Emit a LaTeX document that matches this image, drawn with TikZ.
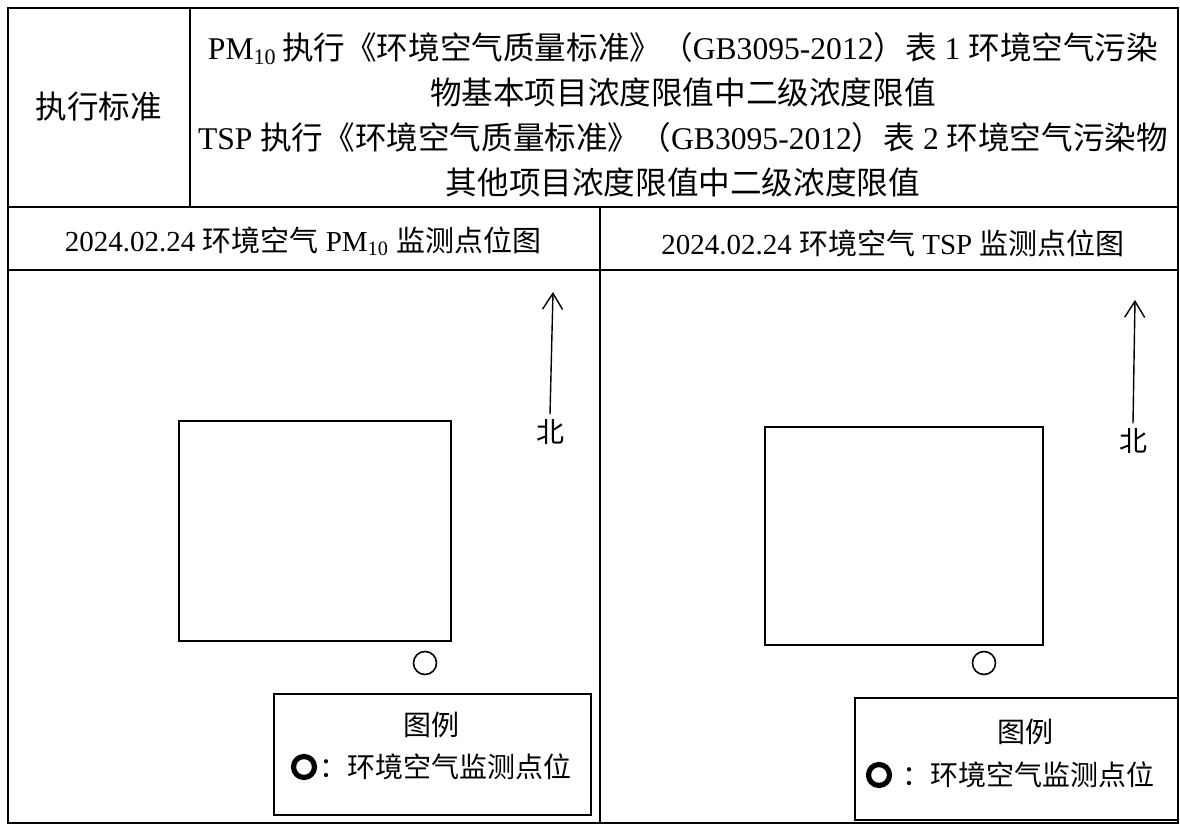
\documentclass[tikz,border=0pt]{standalone}
\usepackage{fontspec}
\setmainfont{Liberation Serif}
\newfontfamily\cjk{Noto Sans CJK SC}
\newcommand{\zh}[1]{{\cjk #1}}
\usetikzlibrary{positioning,arrows.meta}
\tikzset{
  frameline/.style={line width=1.1pt},
  gridline/.style={line width=0.9pt},
  siteplan/.style={line width=0.8pt},
  legbox/.style={line width=0.6pt},
  monpoint/.style={circle,draw,line width=0.8pt,minimum size=11.5pt,inner sep=0pt},
  legmark/.style={circle,draw,line width=2.6pt,minimum size=10.5pt,inner sep=0pt},
  northarrow/.style={line width=0.7pt,-{Straight Barb[length=8pt,width=10pt]}},
  bigtext/.style={font=\fontsize{15.8}{22.5}\selectfont},
  midtext/.style={font=\fontsize{14.5}{18}\selectfont},
  legtext/.style={font=\fontsize{14}{18}\selectfont},
}
\begin{document}
\begin{tikzpicture}[x=0.5pt,y=-0.5pt]
\fill[white] (0,0) rectangle (1180,828);
\useasboundingbox (0,0) rectangle (1180,828);
% table
\draw[frameline] (8,8) -- ++(1170,0) -- ++(0,815) -- ++(-1170,0) -- cycle;
\draw[gridline] (190,8) -- (190,207);
\draw[frameline] (8,207) -- (1178,207);
\draw[gridline] (8,270) -- (1178,270);
\draw[gridline] (600,207) -- (600,823);
\node[bigtext] (stdhead) at (99,107) {\zh{执行标准}};
\node[bigtext,align=center,inner sep=0pt] (stdbody) at (683,115)
  {PM\textsubscript{10}\,\zh{执行《环境空气质量标准》（}GB3095-2012\zh{）表} 1 \zh{环境空气污染}\\
   \zh{物基本项目浓度限值中二级浓度限值}\\
   TSP \zh{执行《环境空气质量标准》（}GB3095-2012\zh{）表} 2 \zh{环境空气污染物}\\
   \zh{其他项目浓度限值中二级浓度限值}};
\node[midtext] (titlepm) at (303,241)
  {2024.02.24 \zh{环境空气} PM\textsubscript{10} \zh{监测点位图}};
\node[midtext] (titletsp) at (893,243)
  {2024.02.24 \zh{环境空气} TSP \zh{监测点位图}};
% PM10 map
\draw[siteplan] (179,421) -- ++(272,0) -- ++(0,220) -- ++(-272,0) -- cycle;
\node[monpoint] (ptpm) at (425,663) {};
\node[legtext] (northpm) at (550,432) {\zh{北}};
\coordinate (tippm) at (553,292);
\draw[northarrow] ([yshift=-1pt]northpm.north) -- (tippm);
\draw[legbox] (274,694) -- ++(317,0) -- ++(0,121) -- ++(-317,0) -- cycle;
\node[legtext] (legheadpm) at (431,725) {\zh{图例}};
\node[legmark] (legmarkpm) at (304,767) {};
\node[legtext,right=0pt of legmarkpm,inner sep=1pt] (legitempm) {\zh{：环境空气监测点位}};
% TSP map
\draw[siteplan] (765,427) -- ++(278,0) -- ++(0,218) -- ++(-278,0) -- cycle;
\node[monpoint] (pttsp) at (984,663) {};
\node[legtext] (northtsp) at (1133,441) {\zh{北}};
\coordinate (tiptsp) at (1135,300);
\draw[northarrow] ([yshift=-1pt]northtsp.north) -- (tiptsp);
\draw[legbox] (855,698) -- ++(323,0) -- ++(0,122) -- ++(-323,0) -- cycle;
\node[legtext] (legheadtsp) at (1025,732) {\zh{图例}};
\node[legmark] (legmarktsp) at (879,775) {};
\node[legtext,right=4pt of legmarktsp,inner sep=1pt] (legitemtsp) {\zh{：环境空气监测点位}};
\end{tikzpicture}
\end{document}
